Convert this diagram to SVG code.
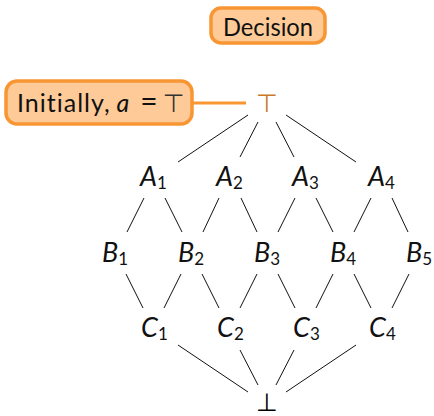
<svg xmlns="http://www.w3.org/2000/svg" width="434" height="416" viewBox="0 0 434 416">
  <style>
    .lbl { font-family: Lato, "Open Sans", sans-serif; font-size: 27px; font-style: italic; fill: #111; }
    .sub { font-family: Lato, "Open Sans", sans-serif; font-size: 17px; font-style: normal; }
    .sym { font-family: "DejaVu Sans", sans-serif; font-size: 25px; text-anchor: middle; }
    .box { fill: #fecb98; stroke: #f79633; stroke-width: 3.5; }
    .note { font-family: Lato, "Open Sans", sans-serif; font-size: 25px; fill: #111; }
    .edge { stroke: #111; stroke-width: 1; fill: none; }
  </style>

  <!-- callout boxes -->
  <g id="decision">
    <rect class="box" x="211" y="8" width="114" height="35" rx="10"/>
    <text class="note" x="268" y="36" text-anchor="middle" textLength="90" lengthAdjust="spacingAndGlyphs">Decision</text>
  </g>
  <g id="initially">
    <rect class="box" x="6" y="81" width="186" height="43" rx="11"/>
    <text class="note" x="17" y="112" font-size="26" letter-spacing="1">Initially,<tspan dx="6" letter-spacing="0" font-style="italic">a</tspan><tspan dx="11" letter-spacing="0" font-size="30">=</tspan><tspan dx="5" letter-spacing="0" font-size="25" font-family="DejaVu Sans" fill="#333">⊤</tspan></text>
  </g>

  <!-- lattice elements -->
  <g id="top"><text class="sym" x="267" y="112" fill="#c97a28">⊤</text></g>
  <g id="A1"><text class="lbl" x="140" y="186">A<tspan class="sub" dy="3">1</tspan></text></g>
  <g id="A2"><text class="lbl" x="216" y="186">A<tspan class="sub" dy="3">2</tspan></text></g>
  <g id="A3"><text class="lbl" x="292" y="186">A<tspan class="sub" dy="3">3</tspan></text></g>
  <g id="A4"><text class="lbl" x="368" y="186">A<tspan class="sub" dy="3">4</tspan></text></g>
  <g id="B1"><text class="lbl" x="102" y="262">B<tspan class="sub" dy="3">1</tspan></text></g>
  <g id="B2"><text class="lbl" x="178" y="262">B<tspan class="sub" dy="3">2</tspan></text></g>
  <g id="B3"><text class="lbl" x="254" y="262">B<tspan class="sub" dy="3">3</tspan></text></g>
  <g id="B4"><text class="lbl" x="330" y="262">B<tspan class="sub" dy="3">4</tspan></text></g>
  <g id="B5"><text class="lbl" x="406" y="262">B<tspan class="sub" dy="3">5</tspan></text></g>
  <g id="C1"><text class="lbl" x="141" y="337">C<tspan class="sub" dy="3">1</tspan></text></g>
  <g id="C2"><text class="lbl" x="217" y="337">C<tspan class="sub" dy="3">2</tspan></text></g>
  <g id="C3"><text class="lbl" x="293" y="337">C<tspan class="sub" dy="3">3</tspan></text></g>
  <g id="C4"><text class="lbl" x="369" y="337">C<tspan class="sub" dy="3">4</tspan></text></g>
  <g id="bottom"><text class="sym" x="267" y="411">⊥</text></g>

  <!-- connectors -->
  <g id="edges" class="edge">
    <line x1="192" y1="103" x2="246" y2="103" stroke="#f79633" stroke-width="3"/>
    <!-- top to A -->
    <line x1="248" y1="115" x2="178" y2="162"/>
    <line x1="258" y1="122" x2="240" y2="157"/>
    <line x1="276" y1="122" x2="294" y2="157"/>
    <line x1="286" y1="115" x2="356" y2="162"/>
    <!-- A to B -->
    <line x1="144" y1="198" x2="127" y2="232"/>
    <line x1="165" y1="198" x2="182" y2="232"/>
    <line x1="219" y1="198" x2="203" y2="232"/>
    <line x1="241" y1="198" x2="257" y2="232"/>
    <line x1="295" y1="198" x2="278" y2="232"/>
    <line x1="316" y1="198" x2="333" y2="232"/>
    <line x1="371" y1="198" x2="354" y2="232"/>
    <line x1="392" y1="198" x2="408" y2="232"/>
    <!-- B to C -->
    <line x1="126" y1="274" x2="143" y2="308"/>
    <line x1="181" y1="274" x2="164" y2="308"/>
    <line x1="202" y1="274" x2="219" y2="308"/>
    <line x1="257" y1="274" x2="240" y2="308"/>
    <line x1="278" y1="274" x2="295" y2="308"/>
    <line x1="333" y1="274" x2="316" y2="308"/>
    <line x1="354" y1="274" x2="371" y2="308"/>
    <line x1="409" y1="274" x2="392" y2="308"/>
    <!-- C to bottom -->
    <line x1="178" y1="345" x2="248" y2="392"/>
    <line x1="240" y1="350" x2="258" y2="385"/>
    <line x1="294" y1="350" x2="276" y2="385"/>
    <line x1="356" y1="345" x2="286" y2="392"/>
  </g>
</svg>
